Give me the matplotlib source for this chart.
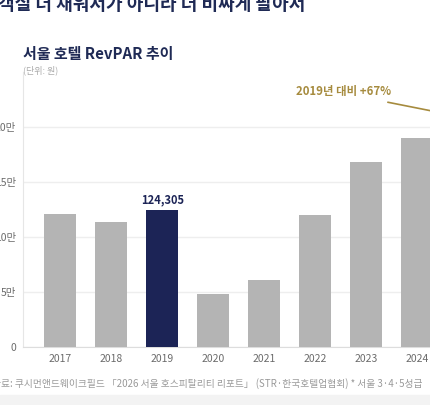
# 서울 호텔 RevPAR 추이 막대 그래프

import matplotlib.pyplot as plt
from matplotlib.patches import Rectangle

plt.rcParams['font.family'] = ['Noto Sans CJK KR', 'DejaVu Sans']

# 데이터 (원)
years = ['2017', '2018', '2019', '2020', '2021', '2022', '2023', '2024']
revpar = [121000, 114000, 124305, 48000, 61000, 120000, 168000, 190000]
highlight = '2019'
ytick_vals = [0, 50000, 100000, 150000, 200000]
ytick_labels = ['0', '5만', '10만', '15만', '20만']

navy = '#1c2456'
gray_bar = '#b4b4b4'
gold = '#a68b3e'

fig = plt.figure(figsize=(4.3, 4.05), dpi=100)
ax = fig.add_axes([23 / 430, 58 / 405, 1 - 23 / 430, 275 / 405])

x = list(range(len(years)))
colors = [navy if y == highlight else gray_bar for y in years]
ax.bar(x, revpar, width=0.63, color=colors, zorder=3)

# 2019 값 표시
i = years.index(highlight)
ax.text(i, revpar[i] + 4000, f'{revpar[i]:,}', ha='center', va='bottom',
        fontsize=8, fontweight='bold', color=navy)

ax.set_xlim(-0.73, 7.25)
ax.set_ylim(0, 250000)
ax.set_xticks(x)
ax.set_xticklabels(years)
ax.set_yticks(ytick_vals)
ax.set_yticklabels(ytick_labels)
ax.tick_params(length=0, labelsize=7.5, labelcolor='#6b6b6b', pad=5)
ax.grid(axis='y', color='#eeeeee', linewidth=1, zorder=0)

for s in ['top', 'right']:
    ax.spines[s].set_visible(False)
ax.spines['left'].set_color('#e6e6e6')
ax.spines['bottom'].set_color('#dddddd')

# 2019년 대비 주석 (2025 막대는 화면 밖)
ax.text(5.55, 232000, '2019년 대비 +67%', ha='center', va='center',
        fontsize=8.2, fontweight='bold', color=gold)
ax.annotate('', xy=(8, 208000), xytext=(6.37, 223000),
            arrowprops=dict(arrowstyle='-', color=gold, lw=1.2),
            annotation_clip=False)

# 제목
fig.text(-2 / 430, 1 - 4 / 405, '객실 더 채워서가 아니라 더 비싸게 팔아서',
         ha='left', va='center', fontsize=13, fontweight='bold', color='#1f2a55')
fig.text(23 / 430, 1 - 54 / 405, '서울 호텔 RevPAR 추이', ha='left', va='center',
         fontsize=10.8, fontweight='bold', color='#1f2a55')
fig.text(23 / 430, 1 - 70 / 405, '(단위: 원)', ha='left', va='center',
         fontsize=6.5, color='#aaaaaa')

# 출처 및 하단 띠
fig.text(-8 / 430, 1 - 384 / 405,
         '자료: 쿠시먼앤드웨이크필드 「2026 서울 호스피탈리티 리포트」 (STR·한국호텔업협회) * 서울 3·4·5성급',
         ha='left', va='center', fontsize=7, color='#9a9a9a')
fig.patches.append(Rectangle((0, 0), 1, 10 / 405, transform=fig.transFigure,
                             color='#f3f3f3', zorder=0))

fig.savefig('out.png', dpi=100)
